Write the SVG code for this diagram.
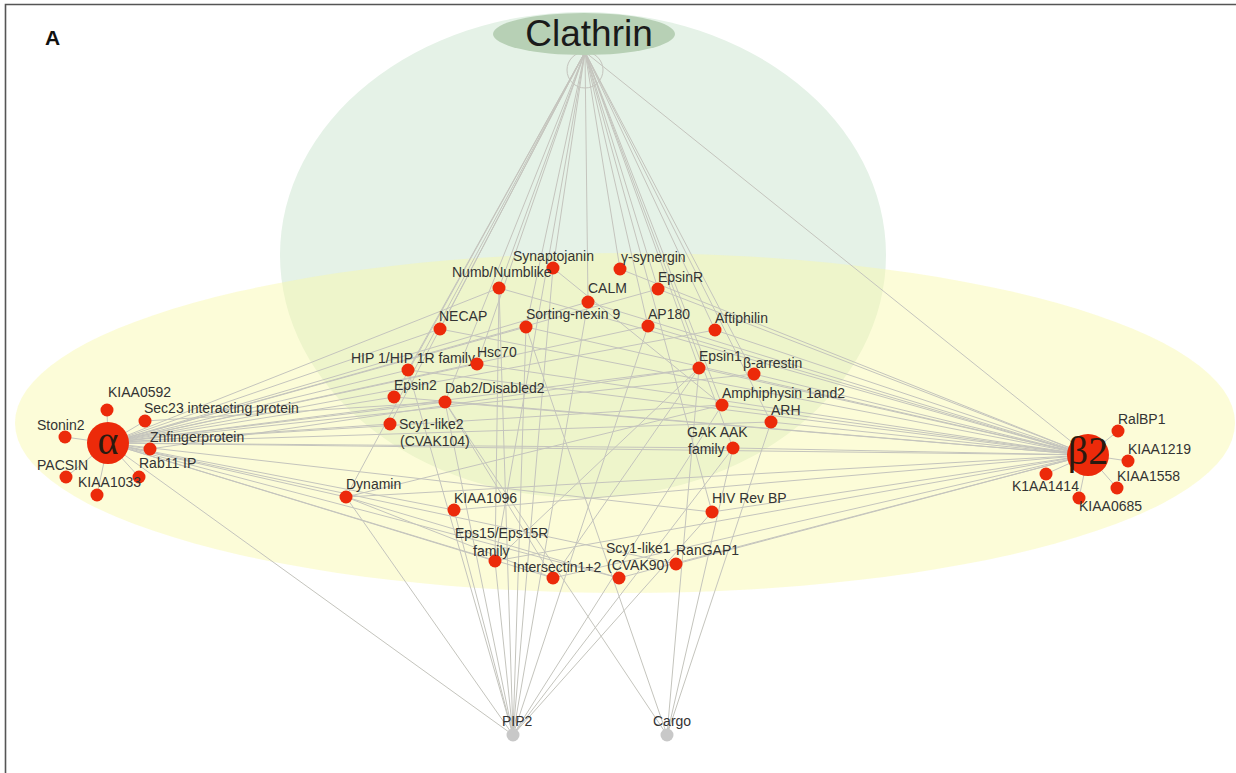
<svg xmlns="http://www.w3.org/2000/svg" width="1236" height="773" viewBox="0 0 1236 773">
<style>
.lbl{font-family:"Liberation Sans",Arial,sans-serif;font-size:14px;fill:#333}
.n{fill:#ec2a0a}
.g{fill:#c8c8c8}
.e line{stroke:#c4c4bd;stroke-width:1;fill:none}
.greek{font-family:"Liberation Serif","Times New Roman",serif;font-size:40px;fill:#2a1a10;text-anchor:middle}
</style>
<rect x="0" y="0" width="1236" height="773" fill="#ffffff"/>
<g id="regions">
<ellipse cx="583" cy="255" rx="303" ry="243" fill="#e5f2e7"/>
<ellipse cx="625" cy="423" rx="610" ry="170" fill="#f8f8a8" fill-opacity="0.45"/>
</g>
<path d="M5.5 773 V4.5 H1236" fill="none" stroke="#555" stroke-width="1.6"/>
<text x="45" y="45" font-family="Liberation Sans,Arial,sans-serif" font-size="21" font-weight="bold" fill="#111">A</text>
<g id="connectors" class="e">
<circle cx="585" cy="70" r="18" fill="none" stroke="#c4c4bd"/>
<line x1="585" y1="52" x2="346" y2="497"/>
<line x1="585" y1="52" x2="408" y2="370"/>
<line x1="585" y1="52" x2="394" y2="397"/>
<line x1="585" y1="52" x2="440" y2="329"/>
<line x1="585" y1="52" x2="390" y2="424"/>
<line x1="585" y1="52" x2="445" y2="402"/>
<line x1="585" y1="52" x2="499" y2="288"/>
<line x1="585" y1="52" x2="477" y2="364"/>
<line x1="585" y1="52" x2="526" y2="327"/>
<line x1="585" y1="52" x2="495" y2="561"/>
<line x1="585" y1="52" x2="553" y2="268"/>
<line x1="585" y1="52" x2="588" y2="302"/>
<line x1="585" y1="52" x2="620" y2="269"/>
<line x1="585" y1="52" x2="648" y2="326"/>
<line x1="585" y1="52" x2="712" y2="512"/>
<line x1="585" y1="52" x2="658" y2="289"/>
<line x1="585" y1="52" x2="699" y2="368"/>
<line x1="585" y1="52" x2="733" y2="448"/>
<line x1="585" y1="52" x2="722" y2="405"/>
<line x1="585" y1="52" x2="715" y2="330"/>
<line x1="585" y1="52" x2="754" y2="374"/>
<line x1="585" y1="52" x2="771" y2="422"/>
<line x1="585" y1="52" x2="1088" y2="455"/>
<line x1="108" y1="443" x2="440" y2="329"/>
<line x1="108" y1="443" x2="499" y2="288"/>
<line x1="108" y1="443" x2="408" y2="370"/>
<line x1="108" y1="443" x2="394" y2="397"/>
<line x1="108" y1="443" x2="445" y2="402"/>
<line x1="108" y1="443" x2="390" y2="424"/>
<line x1="108" y1="443" x2="477" y2="364"/>
<line x1="108" y1="443" x2="526" y2="327"/>
<line x1="108" y1="443" x2="588" y2="302"/>
<line x1="108" y1="443" x2="648" y2="326"/>
<line x1="108" y1="443" x2="699" y2="368"/>
<line x1="108" y1="443" x2="754" y2="374"/>
<line x1="108" y1="443" x2="722" y2="405"/>
<line x1="108" y1="443" x2="771" y2="422"/>
<line x1="108" y1="443" x2="733" y2="448"/>
<line x1="108" y1="443" x2="346" y2="497"/>
<line x1="108" y1="443" x2="454" y2="510"/>
<line x1="108" y1="443" x2="495" y2="561"/>
<line x1="108" y1="443" x2="553" y2="578"/>
<line x1="108" y1="443" x2="619" y2="578"/>
<line x1="108" y1="443" x2="676" y2="564"/>
<line x1="108" y1="443" x2="712" y2="512"/>
<line x1="108" y1="443" x2="658" y2="289"/>
<line x1="108" y1="443" x2="715" y2="330"/>
<line x1="108" y1="443" x2="1088" y2="455"/>
<line x1="108" y1="443" x2="513" y2="735"/>
<line x1="108" y1="443" x2="107" y2="410"/>
<line x1="108" y1="443" x2="145" y2="421"/>
<line x1="108" y1="443" x2="65" y2="437"/>
<line x1="108" y1="443" x2="150" y2="449"/>
<line x1="108" y1="443" x2="139" y2="477"/>
<line x1="108" y1="443" x2="66" y2="477"/>
<line x1="108" y1="443" x2="97" y2="495"/>
<line x1="145" y1="421" x2="445" y2="402"/>
<line x1="150" y1="449" x2="699" y2="368"/>
<line x1="1088" y1="455" x2="440" y2="329"/>
<line x1="1088" y1="455" x2="499" y2="288"/>
<line x1="1088" y1="455" x2="408" y2="370"/>
<line x1="1088" y1="455" x2="394" y2="397"/>
<line x1="1088" y1="455" x2="445" y2="402"/>
<line x1="1088" y1="455" x2="477" y2="364"/>
<line x1="1088" y1="455" x2="526" y2="327"/>
<line x1="1088" y1="455" x2="588" y2="302"/>
<line x1="1088" y1="455" x2="648" y2="326"/>
<line x1="1088" y1="455" x2="699" y2="368"/>
<line x1="1088" y1="455" x2="754" y2="374"/>
<line x1="1088" y1="455" x2="722" y2="405"/>
<line x1="1088" y1="455" x2="771" y2="422"/>
<line x1="1088" y1="455" x2="733" y2="448"/>
<line x1="1088" y1="455" x2="712" y2="512"/>
<line x1="1088" y1="455" x2="676" y2="564"/>
<line x1="1088" y1="455" x2="619" y2="578"/>
<line x1="1088" y1="455" x2="553" y2="578"/>
<line x1="1088" y1="455" x2="495" y2="561"/>
<line x1="1088" y1="455" x2="454" y2="510"/>
<line x1="1088" y1="455" x2="346" y2="497"/>
<line x1="1088" y1="455" x2="658" y2="289"/>
<line x1="1088" y1="455" x2="620" y2="269"/>
<line x1="1088" y1="455" x2="715" y2="330"/>
<line x1="1088" y1="455" x2="1118" y2="431"/>
<line x1="1088" y1="455" x2="1128" y2="461"/>
<line x1="1088" y1="455" x2="1117" y2="488"/>
<line x1="1088" y1="455" x2="1046" y2="474"/>
<line x1="1088" y1="455" x2="1079" y2="498"/>
<line x1="513" y1="735" x2="346" y2="497"/>
<line x1="513" y1="735" x2="454" y2="510"/>
<line x1="513" y1="735" x2="408" y2="370"/>
<line x1="513" y1="735" x2="445" y2="402"/>
<line x1="513" y1="735" x2="499" y2="288"/>
<line x1="513" y1="735" x2="526" y2="327"/>
<line x1="513" y1="735" x2="553" y2="268"/>
<line x1="513" y1="735" x2="588" y2="302"/>
<line x1="513" y1="735" x2="648" y2="326"/>
<line x1="513" y1="735" x2="722" y2="405"/>
<line x1="513" y1="735" x2="712" y2="512"/>
<line x1="513" y1="735" x2="733" y2="448"/>
<line x1="513" y1="735" x2="495" y2="561"/>
<line x1="667" y1="735" x2="445" y2="402"/>
<line x1="667" y1="735" x2="526" y2="327"/>
<line x1="667" y1="735" x2="699" y2="368"/>
<line x1="667" y1="735" x2="733" y2="448"/>
<line x1="667" y1="735" x2="771" y2="422"/>
<line x1="346" y1="497" x2="553" y2="578"/>
<line x1="346" y1="497" x2="722" y2="405"/>
<line x1="346" y1="497" x2="619" y2="578"/>
<line x1="495" y1="561" x2="699" y2="368"/>
<line x1="553" y1="268" x2="722" y2="405"/>
<line x1="553" y1="578" x2="699" y2="368"/>
<line x1="445" y1="402" x2="553" y2="578"/>
<line x1="499" y1="288" x2="495" y2="561"/>
</g>
<g id="clathrin">
<ellipse cx="584" cy="34" rx="91" ry="21" fill="#b7d0b5"/>
<text x="589" y="46" text-anchor="middle" font-family="Liberation Sans,Arial,sans-serif" font-size="37" fill="#1a1a1a">Clathrin</text>
</g>
<g id="alpha"><circle cx="108" cy="443" r="21" class="n"/><text x="108" y="454" class="greek">α</text></g>
<g id="kiaa0592"><circle cx="107" cy="410" r="6.5" class="n"/><text x="108" y="397" class="lbl">KIAA0592</text></g>
<g id="sec23"><circle cx="145" cy="421" r="6.5" class="n"/><text x="144" y="413" class="lbl">Sec23 interacting protein</text></g>
<g id="stonin2"><circle cx="65" cy="437" r="6.5" class="n"/><text x="37" y="430" class="lbl">Stonin2</text></g>
<g id="znf"><circle cx="150" cy="449" r="6.5" class="n"/><text x="150" y="442" class="lbl">Znfingerprotein</text></g>
<g id="rab11ip"><circle cx="139" cy="477" r="6.5" class="n"/><text x="139" y="468" class="lbl">Rab11 IP</text></g>
<g id="pacsin"><circle cx="66" cy="477" r="6.5" class="n"/><text x="37" y="470" class="lbl">PACSIN</text></g>
<g id="kiaa1033"><circle cx="97" cy="495" r="6.5" class="n"/><text x="78" y="487" class="lbl">KIAA1033</text></g>
<g id="synaptojanin"><circle cx="553" cy="268" r="6.5" class="n"/><text x="513" y="261" class="lbl">Synaptojanin</text></g>
<g id="gsynergin"><circle cx="620" cy="269" r="6.5" class="n"/><text x="621" y="262" class="lbl">γ-synergin</text></g>
<g id="numb"><circle cx="499" cy="288" r="6.5" class="n"/><text x="452" y="277" class="lbl">Numb/Numblike</text></g>
<g id="epsinr"><circle cx="658" cy="289" r="6.5" class="n"/><text x="658" y="282" class="lbl">EpsinR</text></g>
<g id="calm"><circle cx="588" cy="302" r="6.5" class="n"/><text x="588" y="293" class="lbl">CALM</text></g>
<g id="necap"><circle cx="440" cy="329" r="6.5" class="n"/><text x="439" y="321" class="lbl">NECAP</text></g>
<g id="snx9"><circle cx="526" cy="327" r="6.5" class="n"/><text x="526" y="319" class="lbl">Sorting-nexin 9</text></g>
<g id="ap180"><circle cx="648" cy="326" r="6.5" class="n"/><text x="648" y="319" class="lbl">AP180</text></g>
<g id="aftiphilin"><circle cx="715" cy="330" r="6.5" class="n"/><text x="715" y="323" class="lbl">Aftiphilin</text></g>
<g id="hip1"><circle cx="408" cy="370" r="6.5" class="n"/><text x="351" y="363" class="lbl">HIP 1/HIP 1R family</text></g>
<g id="hsc70"><circle cx="477" cy="364" r="6.5" class="n"/><text x="477" y="357" class="lbl">Hsc70</text></g>
<g id="epsin1"><circle cx="699" cy="368" r="6.5" class="n"/><text x="699" y="361" class="lbl">Epsin1</text></g>
<g id="barrestin"><circle cx="754" cy="374" r="6.5" class="n"/><text x="743" y="368" class="lbl">β-arrestin</text></g>
<g id="epsin2"><circle cx="394" cy="397" r="6.5" class="n"/><text x="394" y="390" class="lbl">Epsin2</text></g>
<g id="dab2"><circle cx="445" cy="402" r="6.5" class="n"/><text x="445" y="393" class="lbl">Dab2/Disabled2</text></g>
<g id="amphiphysin"><circle cx="722" cy="405" r="6.5" class="n"/><text x="722" y="398" class="lbl">Amphiphysin 1and2</text></g>
<g id="scy1like2"><circle cx="390" cy="424" r="6.5" class="n"/><text x="399" y="429" class="lbl">Scy1-like2</text><text x="400" y="446" class="lbl">(CVAK104)</text></g>
<g id="arh"><circle cx="771" cy="422" r="6.5" class="n"/><text x="771" y="415" class="lbl">ARH</text></g>
<g id="gak"><circle cx="733" cy="448" r="6.5" class="n"/><text x="687" y="437" class="lbl">GAK AAK</text><text x="688" y="454" class="lbl">family</text></g>
<g id="dynamin"><circle cx="346" cy="497" r="6.5" class="n"/><text x="346" y="489" class="lbl">Dynamin</text></g>
<g id="kiaa1096"><circle cx="454" cy="510" r="6.5" class="n"/><text x="454" y="503" class="lbl">KIAA1096</text></g>
<g id="hivrevbp"><circle cx="712" cy="512" r="6.5" class="n"/><text x="712" y="503" class="lbl">HIV Rev BP</text></g>
<g id="eps15"><circle cx="495" cy="561" r="6.5" class="n"/><text x="455" y="538" class="lbl">Eps15/Eps15R</text><text x="473" y="556" class="lbl">family</text></g>
<g id="rangap1"><circle cx="676" cy="564" r="6.5" class="n"/><text x="676" y="555" class="lbl">RanGAP1</text></g>
<g id="intersectin"><circle cx="553" cy="578" r="6.5" class="n"/><text x="513" y="572" class="lbl">Intersectin1+2</text></g>
<g id="scy1like1"><circle cx="619" cy="578" r="6.5" class="n"/><text x="606" y="553" class="lbl">Scy1-like1</text><text x="607" y="570" class="lbl">(CVAK90)</text></g>
<g id="beta2"><circle cx="1088" cy="455" r="21" class="n"/><text x="1088" y="464" class="greek">β2</text></g>
<g id="ralbp1"><circle cx="1118" cy="431" r="6.5" class="n"/><text x="1118" y="424" class="lbl">RalBP1</text></g>
<g id="kiaa1219"><circle cx="1128" cy="461" r="6.5" class="n"/><text x="1128" y="454" class="lbl">KIAA1219</text></g>
<g id="kiaa1558"><circle cx="1117" cy="488" r="6.5" class="n"/><text x="1117" y="481" class="lbl">KIAA1558</text></g>
<g id="k1aa1414"><circle cx="1046" cy="474" r="6.5" class="n"/><text x="1012" y="491" class="lbl">K1AA1414</text></g>
<g id="kiaa0685"><circle cx="1079" cy="498" r="6.5" class="n"/><text x="1079" y="511" class="lbl">KIAA0685</text></g>
<g id="pip2"><circle cx="513" cy="735" r="6.5" class="g"/><text x="502" y="726" class="lbl">PIP2</text></g>
<g id="cargo"><circle cx="667" cy="735" r="6.5" class="g"/><text x="653" y="726" class="lbl">Cargo</text></g>
</svg>
